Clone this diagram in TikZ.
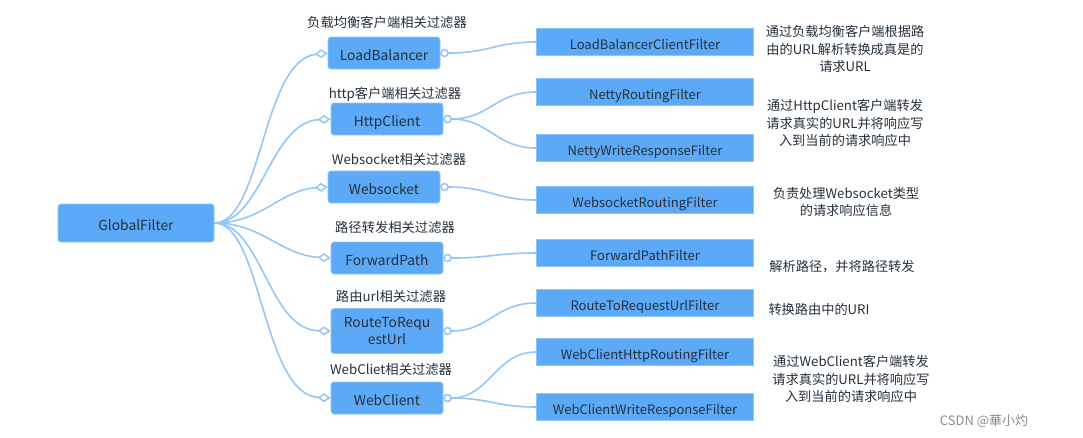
\documentclass[tikz,border=0pt]{standalone}
\usepackage{fontspec}
\setmainfont{Noto Sans CJK SC}
\usetikzlibrary{arrows.meta}
\definecolor{boxblue}{HTML}{5CAAF7}
\definecolor{boxedge}{HTML}{8EC6F8}
\definecolor{linkblue}{HTML}{94C7F5}
\definecolor{txt}{HTML}{25303C}
\begin{document}
\begin{tikzpicture}[x=1pt,y=-1pt,
  rootbox/.style={fill=boxblue,draw=boxedge,line width=0.8pt,rounded corners=3pt,minimum width=156pt,minimum height=38pt,inner sep=0pt,text=txt,text height=18pt,text depth=3pt,font=\fontsize{13.8}{16}\selectfont},
  midbox/.style={fill=boxblue,draw=boxedge,line width=0.8pt,rounded corners=3pt,minimum width=112pt,minimum height=32pt,inner sep=0pt,text=txt,align=center,font=\fontsize{13.8}{17}\selectfont},
  midone/.style={midbox,text height=17pt,text depth=3pt},
  leafbox/.style={fill=boxblue,draw=boxedge,line width=0.8pt,minimum width=217pt,minimum height=27pt,inner sep=0pt,text=txt,text height=17.5pt,text depth=3pt,font=\fontsize{13}{15}\selectfont},
  grouplabel/.style={text=txt,inner sep=0pt,font=\fontsize{13.3}{16}\selectfont},
  desc/.style={text=txt,inner sep=0pt,align=center,font=\fontsize{13.2}{17.6}\selectfont},
  conn/.style={draw=linkblue,line width=1.6pt},
  tomid/.style={conn,-{Diamond[open,length=13pt,width=9pt,fill=white,line width=1.5pt]}},
  toleaf/.style={conn,{Circle[open,length=8.5pt,width=8.5pt,fill=white,line width=1.5pt]}-}
]
\useasboundingbox (0,0) rectangle (1083,437);

% root
\node[rootbox] (gf) at (136,223) {GlobalFilter};

% middle nodes
\node[midone] (lb) at (384,53) {LoadBalancer};
\node[midone] (hc) at (387,119) {HttpClient};
\node[midone] (ws) at (384,187) {Websocket};
\node[midone] (fp) at (387,258) {ForwardPath};
\node[midbox,minimum height=45pt] (rt) at (387,331) {RouteToRequ\\estUrl};
\node[midone] (wc) at (387,398) {WebClient};

% group labels
\node[grouplabel] (llb) at (387,22) {负载均衡客户端相关过滤器};
\node[grouplabel] (lhc) at (395,94) {http客户端相关过滤器};
\node[grouplabel] (lws) at (399,159) {Websocket相关过滤器};
\node[grouplabel] (lfp) at (395,227) {路径转发相关过滤器};
\node[grouplabel] (lrt) at (391,296) {路由url相关过滤器};
\node[grouplabel] (lwc) at (391,369) {WebCliet相关过滤器};

% leaf nodes
\node[leafbox] (f1) at (645,42) {LoadBalancerClientFilter};
\node[leafbox] (f2) at (645,92) {NettyRoutingFilter};
\node[leafbox] (f3) at (645,148) {NettyWriteResponseFilter};
\node[leafbox] (f4) at (645,200) {WebsocketRoutingFilter};
\node[leafbox] (f5) at (645,253) {ForwardPathFilter};
\node[leafbox] (f6) at (645,303) {RouteToRequestUrlFilter};
\node[leafbox] (f7) at (645,352) {WebClientHttpRoutingFilter};
\node[leafbox] (f8) at (645,407) {WebClientWriteResponseFilter};

% descriptions
\node[desc] (d1) at (845,49) {通过负载均衡客户端根据路\\由的URL解析转换成真是的\\请求URL};
\node[desc] (d2) at (845,123) {通过HttpClient客户端转发\\请求真实的URL并将响应写\\入到当前的请求响应中};
\node[desc] (d3) at (846,202) {负责处理Websocket类型\\的请求响应信息};
\node[desc] (d4) at (842,267) {解析路径，并将路径转发};
\node[desc] (d5) at (819,309) {转换路由中的URI};
\node[desc] (d6) at (851,379) {通过WebClient客户端转发\\请求真实的URL并将响应写\\入到当前的请求响应中};

% watermark
\node[text=black!45,inner sep=0pt,font=\fontsize{13}{15}\selectfont] (wm) at (984,421) {CSDN @華小灼};

% root to middle
\draw[tomid] (gf.east) .. controls (262,223) and (262,60) .. (lb.west);
\draw[tomid] (gf.east) .. controls (262,223) and (270,122) .. (hc.west);
\draw[tomid] (gf.east) .. controls (262,223) and (280,190) .. (ws.west);
\draw[tomid] (gf.east) .. controls (262,223) and (280,255) .. (fp.west);
\draw[tomid] (gf.east) .. controls (262,223) and (268,330) .. (rt.west);
\draw[tomid] (gf.east) .. controls (262,223) and (262,395) .. (wc.west);

% middle to leaves
\draw[toleaf] (lb.east) .. controls (490,53) and (495,42) .. (f1.west);
\draw[toleaf] (hc.east) .. controls (490,119) and (495,92) .. (f2.west);
\draw[toleaf] (hc.east) .. controls (490,119) and (495,148) .. (f3.west);
\draw[toleaf] (ws.east) .. controls (490,187) and (495,200) .. (f4.west);
\draw[toleaf] (fp.east) .. controls (490,258) and (495,253) .. (f5.west);
\draw[toleaf] (rt.east) .. controls (490,331) and (495,303) .. (f6.west);
\draw[toleaf] (wc.east) .. controls (490,398) and (495,352) .. (f7.west);
\draw[toleaf] (wc.east) .. controls (490,398) and (495,407) .. (f8.west);
\end{tikzpicture}
\end{document}
